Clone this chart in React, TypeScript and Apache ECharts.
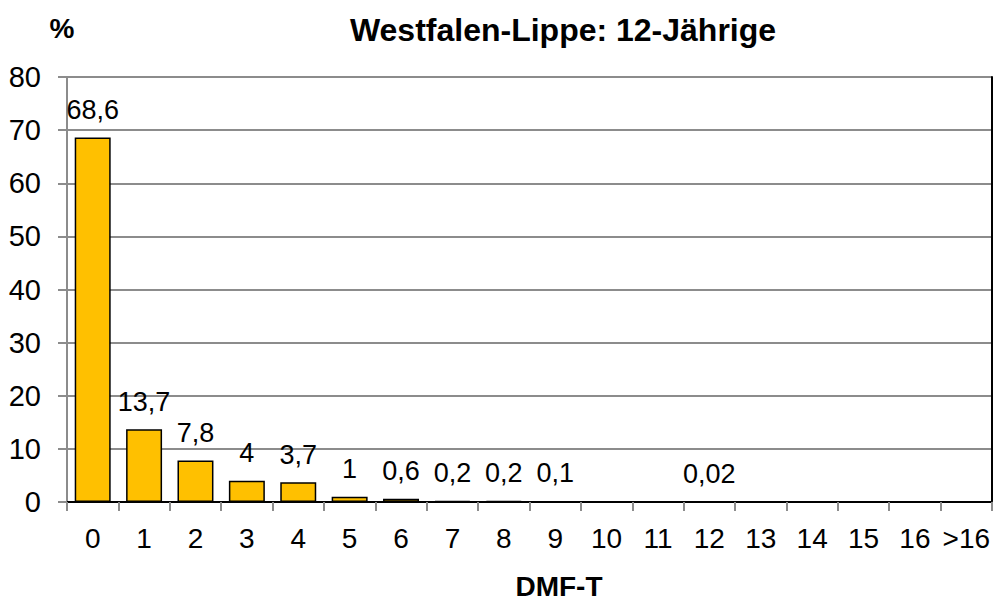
import React, { useEffect, useRef } from "react";
import * as echarts from "echarts";

const categories = ["0", "1", "2", "3", "4", "5", "6", "7", "8", "9", "10", "11", "12", "13", "14", "15", "16", ">16"];
const values: (number | null)[] = [68.6, 13.7, 7.8, 4, 3.7, 1, 0.6, 0.2, 0.2, 0.1, null, null, 0.02, null, null, null, null, null];
const yTicks = { min: 0, max: 80, interval: 10 };
const titleText = "Westfalen-Lippe: 12-Jährige";
const yName = "%";
const xName = "DMF-T";

const FONT = "Liberation Sans, Arial, sans-serif";

export default function App() {
  const ref = useRef<HTMLDivElement>(null);
  useEffect(() => {
    if (!ref.current) return;
    const chart = echarts.init(ref.current, null, { renderer: "svg" });
    chart.setOption({
      animation: false,
      backgroundColor: "#ffffff",
      textStyle: { fontFamily: FONT },
      grid: { left: 67, right: 3, top: 77, bottom: 98, containLabel: false },
      graphic: [
        { type: "text", x: 563, y: 30, style: { text: titleText, fill: "#000", font: `bold 32px ${FONT}`, textAlign: "center", textVerticalAlign: "middle" } },
        { type: "text", x: 62, y: 28, style: { text: yName, fill: "#000", font: `bold 28px ${FONT}`, textAlign: "center", textVerticalAlign: "middle" } },
        { type: "text", x: 559, y: 586, style: { text: xName, fill: "#000", font: `bold 28px ${FONT}`, textAlign: "center", textVerticalAlign: "middle" } },
      ],
      xAxis: [
        {
          type: "category",
          data: categories,
          position: "bottom",
          axisLine: { show: true, lineStyle: { color: "#8c8c8c", width: 2 } },
          axisTick: { show: true, length: 9, alignWithLabel: false, lineStyle: { color: "#8c8c8c", width: 2 } },
          axisLabel: { color: "#000", fontSize: 28, margin: 22, fontFamily: FONT, interval: 0 },
          splitLine: { show: false },
        },
        {
          type: "category",
          data: categories,
          position: "top",
          axisLine: { show: true, lineStyle: { color: "#000", width: 2 } },
          axisTick: { show: false },
          axisLabel: { show: false },
        },
      ],
      yAxis: [
        {
          type: "value",
          min: yTicks.min,
          max: yTicks.max,
          interval: yTicks.interval,
          position: "left",
          axisLine: { show: true, lineStyle: { color: "#8c8c8c", width: 2 } },
          axisTick: { show: true, length: 9, lineStyle: { color: "#8c8c8c", width: 2 } },
          axisLabel: { color: "#000", fontSize: 29, margin: 26, fontFamily: FONT },
          splitLine: { show: true, lineStyle: { color: "#8c8c8c", width: 2 } },
        },
        {
          type: "value",
          min: yTicks.min,
          max: yTicks.max,
          interval: yTicks.interval,
          position: "right",
          axisLine: { show: true, lineStyle: { color: "#000", width: 2 } },
          axisTick: { show: false },
          axisLabel: { show: false },
          splitLine: { show: false },
        },
      ],
      series: [
        {
          type: "bar",
          data: values,
          barCategoryGap: "30%",
          itemStyle: { color: "#FFC000", borderColor: "#000", borderWidth: 1.5 },
          label: {
            show: true,
            position: "top",
            distance: 14,
            color: "#000",
            fontSize: 27,
            fontFamily: FONT,
            formatter: (p: any) => (p.value == null ? "" : String(p.value).replace(".", ",")),
          },
        },
      ],
    });
    return () => chart.dispose();
  }, []);
  return <div ref={ref} style={{ position: "absolute", left: 0, top: 0, width: 995, height: 600 }} />;
}
